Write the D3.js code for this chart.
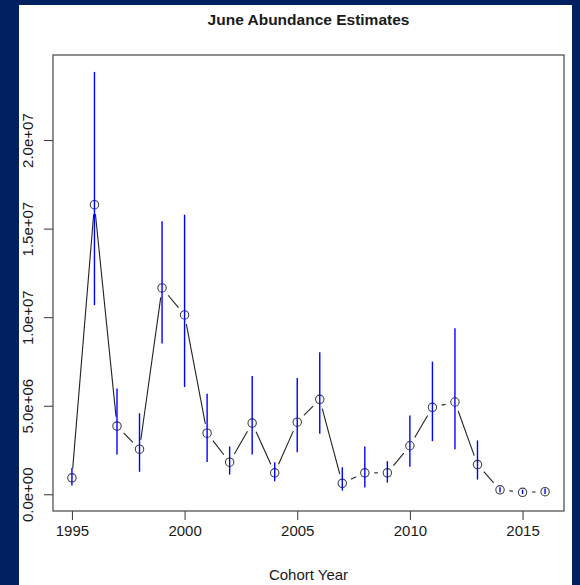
<!DOCTYPE html>
<html>
<head>
<meta charset="utf-8">
<script src="https://cdn.jsdelivr.net/npm/d3@7"></script>
<style>
  html, body { margin: 0; padding: 0; background: #002060; }
  svg { display: block; }
  text { font-family: "Liberation Sans", Arial, sans-serif; fill: #1a1a1a; }
</style>
</head>
<body>
<svg id="chart" width="580" height="585"></svg>
<script>
// Cohort years and June abundance estimates with their interval bounds
const years = [1995, 1996, 1997, 1998, 1999, 2000, 2001, 2002, 2003, 2004, 2005,
               2006, 2007, 2008, 2009, 2010, 2011, 2012, 2013, 2014, 2015, 2016];
const estimate = [0.93e6, 16.35e6, 3.85e6, 2.55e6, 11.65e6, 10.13e6, 3.45e6, 1.81e6, 4.02e6, 1.21e6, 4.07e6,
                  5.36e6, 0.62e6, 1.21e6, 1.21e6, 2.74e6, 4.91e6, 5.21e6, 1.68e6, 0.25e6, 0.11e6, 0.15e6];
const lower = [0.49e6, 10.68e6, 2.25e6, 1.27e6, 8.51e6, 6.06e6, 1.83e6, 1.11e6, 2.25e6, 0.74e6, 2.38e6,
               3.42e6, 0.21e6, 0.38e6, 0.66e6, 1.55e6, 3.00e6, 2.55e6, 0.83e6, 0.10e6, 0.01e6, 0.02e6];
const upper = [1.49e6, 23.85e6, 5.98e6, 4.57e6, 15.42e6, 15.79e6, 5.68e6, 2.70e6, 6.68e6, 1.81e6, 6.56e6,
               8.02e6, 1.53e6, 2.70e6, 1.87e6, 4.45e6, 7.49e6, 9.38e6, 3.04e6, 0.40e6, 0.26e6, 0.32e6];
const yTicks = [0, 5e6, 1e7, 1.5e7, 2e7];
const yTickLabels = ["0.0e+00", "5.0e+06", "1.0e+07", "1.5e+07", "2.0e+07"];
const xTicks = [1995, 2000, 2005, 2010, 2015];

const svg = d3.select("#chart");

// white page area inside the dark frame
svg.append("rect").attr("x", 19).attr("y", 5).attr("width", 553).attr("height", 580).attr("fill", "#ffffff");

const box = { left: 53, right: 564, top: 55, bottom: 511 };

// axis ranges padded by 4% on each side
function padded(lo, hi) { const p = (hi - lo) * 0.04; return [lo - p, hi + p]; }
const x = d3.scaleLinear().domain(padded(d3.min(years), d3.max(years))).range([box.left, box.right]);
const y = d3.scaleLinear().domain(padded(d3.min(lower), d3.max(upper))).range([box.bottom, box.top]);

// title
svg.append("text").attr("x", (box.left + box.right) / 2).attr("y", 25)
  .attr("text-anchor", "middle").attr("font-size", 15.5).attr("font-weight", "bold")
  .text("June Abundance Estimates");

// x axis
const xAxis = d3.axisBottom(x).tickValues(xTicks).tickFormat(d3.format("d")).tickSize(9).tickPadding(5);
const gx = svg.append("g").attr("transform", `translate(0,${box.bottom})`).call(xAxis);
gx.select(".domain").remove();
gx.selectAll(".tick line").attr("stroke", "#333");
gx.selectAll(".tick text").attr("font-size", 15).attr("font-family", "Liberation Sans, Arial, sans-serif")
  .attr("fill", "#1a1a1a").attr("dy", "0.71em");

// y axis with rotated labels
const yAxis = d3.axisLeft(y).tickValues(yTicks).tickFormat((d, i) => yTickLabels[i]).tickSize(9);
const gy = svg.append("g").attr("transform", `translate(${box.left},0)`).call(yAxis);
gy.select(".domain").remove();
gy.selectAll(".tick line").attr("stroke", "#333");
gy.selectAll(".tick text")
  .attr("x", null).attr("dy", null)
  .attr("font-size", 15).attr("font-family", "Liberation Sans, Arial, sans-serif").attr("fill", "#1a1a1a")
  .attr("text-anchor", "middle")
  .attr("transform", "translate(-20,0) rotate(-90)");

// axis title
svg.append("text").attr("x", (box.left + box.right) / 2).attr("y", 580)
  .attr("text-anchor", "middle").attr("font-size", 15).text("Cohort Year");

// plot frame
svg.append("rect").attr("x", box.left).attr("y", box.top)
  .attr("width", box.right - box.left).attr("height", box.bottom - box.top)
  .attr("fill", "none").attr("stroke", "#444").attr("stroke-width", 1.2);

const pts = years.map((yr, i) => ({ px: x(yr), py: y(estimate[i]), lo: y(lower[i]), hi: y(upper[i]) }));

// connecting segments, broken around each point marker
const gap = 9.5;
const segs = [];
for (let i = 0; i < pts.length - 1; i++) {
  const a = pts[i], b = pts[i + 1];
  const dx = b.px - a.px, dy = b.py - a.py, len = Math.hypot(dx, dy);
  if (len > 2 * gap) {
    const ux = dx / len, uy = dy / len;
    segs.push({ x1: a.px + ux * gap, y1: a.py + uy * gap, x2: b.px - ux * gap, y2: b.py - uy * gap });
  }
}
svg.append("g").selectAll("line").data(segs).join("line")
  .attr("x1", d => d.x1).attr("y1", d => d.y1).attr("x2", d => d.x2).attr("y2", d => d.y2)
  .attr("stroke", "#222").attr("stroke-width", 1.1);

// point markers
svg.append("g").selectAll("circle").data(pts).join("circle")
  .attr("cx", d => d.px).attr("cy", d => d.py).attr("r", 4.2)
  .attr("fill", "none").attr("stroke", "#444").attr("stroke-width", 1.1);

// interval bars
svg.append("g").selectAll("line").data(pts).join("line")
  .attr("x1", d => d.px).attr("x2", d => d.px).attr("y1", d => d.lo).attr("y2", d => d.hi)
  .attr("stroke", "#0000ff").attr("stroke-width", 1.4);
</script>
</body>
</html>
